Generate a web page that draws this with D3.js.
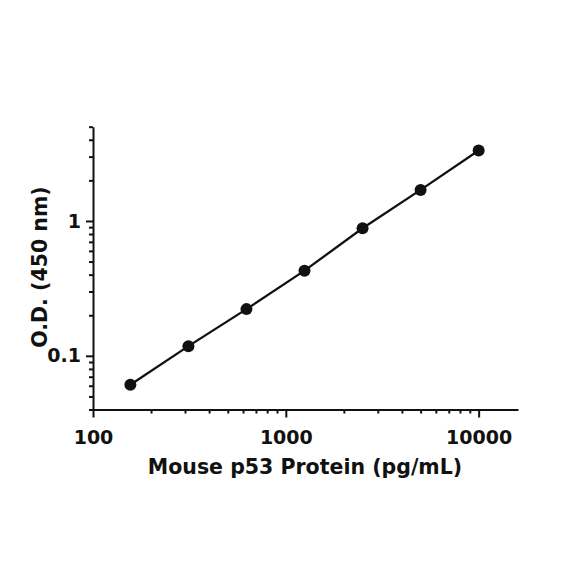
<!DOCTYPE html>
<html>
<head>
<meta charset="utf-8">
<script src="https://cdn.jsdelivr.net/npm/d3@7"></script>
<style>
  body { margin: 0; background: #fff; }
  text { font-family: "DejaVu Sans", sans-serif; font-weight: bold; fill: #111; }
  .axis path, .axis line { stroke: #111; stroke-width: 2; }
</style>
</head>
<body>
<script>
// standard curve, mouse p53
var conc = [156.25, 312.5, 625, 1250, 2500, 5000, 10000];
var od = [0.061, 0.118, 0.222, 0.428, 0.883, 1.70, 3.33];

var xMajor = [100, 1000, 10000];
var xMinor = [200, 300, 400, 500, 600, 700, 800, 900,
              2000, 3000, 4000, 5000, 6000, 7000, 8000, 9000];
var yMajor = [0.1, 1];
var yMinor = [0.04, 0.05, 0.06, 0.07, 0.08, 0.09, 0.2, 0.3, 0.4, 0.5, 0.6, 0.7, 0.8, 0.9, 2, 3, 4, 5];

var w = 584, h = 584;

var svg = d3.select("body").append("svg")
    .attr("width", w)
    .attr("height", h);

var x = d3.scaleLog().domain([100, 16000]).range([93, 518]);
var y = d3.scaleLog().domain([0.04, 5]).range([409.5, 126.7]);

// x axis
svg.append("g")
    .attr("class", "axis")
    .attr("transform", "translate(0," + 409.5 + ")")
    .call(d3.axisBottom(x).tickValues(xMinor).tickSize(4).tickFormat(""))
    .call(function(g) { g.select(".domain").remove(); });

var xa = svg.append("g")
    .attr("class", "axis")
    .attr("transform", "translate(0," + 409.5 + ")")
    .call(d3.axisBottom(x).tickValues(xMajor).tickSize(8).tickSizeOuter(0).tickPadding(13)
      .tickFormat(d3.format("d")));
xa.selectAll("text").style("font-size", "19px").attr("fill", "#111");

// y axis
svg.append("g")
    .attr("class", "axis")
    .attr("transform", "translate(" + 93 + ",0)")
    .call(d3.axisLeft(y).tickValues(yMinor).tickSize(4).tickFormat(""))
    .call(function(g) { g.select(".domain").remove(); });

var ya = svg.append("g")
    .attr("class", "axis")
    .attr("transform", "translate(" + 93 + ",0)")
    .call(d3.axisLeft(y).tickValues(yMajor).tickSize(7).tickSizeOuter(0).tickPadding(5)
      .tickFormat(function(d) { return d; }));
ya.selectAll("text").style("font-size", "19px").attr("fill", "#111");

// line + points
var line = d3.line()
    .x(function(d, i) { return x(conc[i]); })
    .y(function(d) { return y(d); });

svg.append("path")
    .datum(od)
    .attr("d", line)
    .attr("fill", "none")
    .attr("stroke", "#111")
    .attr("stroke-width", 2.3);

svg.selectAll("circle.pt")
    .data(od)
    .enter()
    .append("circle")
    .attr("class", "pt")
    .attr("cx", function(d, i) { return x(conc[i]); })
    .attr("cy", function(d) { return y(d); })
    .attr("r", 6)
    .attr("fill", "#111");

// titles
svg.append("text")
    .attr("x", 305)
    .attr("y", 474)
    .attr("text-anchor", "middle")
    .style("font-size", "20.5px")
    .text("Mouse p53 Protein (pg/mL)");

svg.append("text")
    .attr("transform", "translate(47,267) rotate(-90)")
    .attr("text-anchor", "middle")
    .style("font-size", "20.5px")
    .text("O.D. (450 nm)");
</script>
</body>
</html>
